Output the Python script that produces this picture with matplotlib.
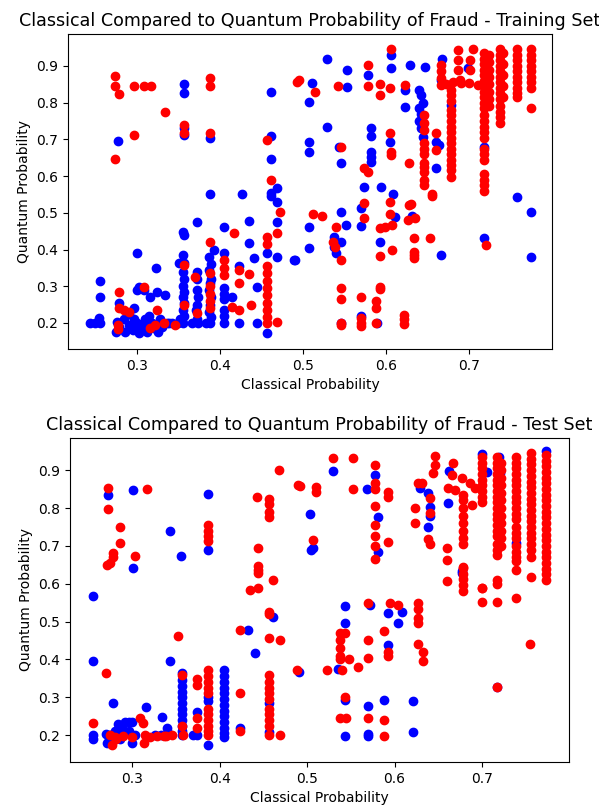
import matplotlib
matplotlib.use("Agg")
import matplotlib.pyplot as plt

# ---- training set: classical vs quantum fraud probability ----
train_blue_x = [
    0.277, 0.357, 0.357, 0.357, 0.357, 0.388, 0.388, 0.4265,
    0.461, 0.461, 0.461, 0.461, 0.461, 0.469, 0.469,
    0.511, 0.507, 0.529, 0.553, 0.553, 0.529, 0.507, 0.507, 0.543, 0.545,
    0.578, 0.582, 0.582, 0.582, 0.582, 0.582, 0.573, 0.594, 0.608,
    0.606, 0.606, 0.604, 0.629, 0.647, 0.623, 0.623,
    0.640, 0.642, 0.644, 0.640, 0.642, 0.640, 0.642, 0.644,
    0.660, 0.664, 0.660, 0.667, 0.666, 0.678, 0.699, 0.718,
    0.757, 0.774, 0.774, 0.718,
    0.507, 0.507, 0.490, 0.545, 0.552, 0.537, 0.537, 0.539, 0.546, 0.570, 0.570,
    0.610, 0.593, 0.631, 0.666,
    0.545, 0.570, 0.589,
    0.243, 0.249, 0.255, 0.255, 0.255, 0.254,
    0.278, 0.276, 0.278, 0.275,
    0.300, 0.296, 0.302, 0.300, 0.308,
    0.285, 0.290, 0.295, 0.300, 0.305, 0.310, 0.312, 0.318, 0.320, 0.328, 0.330,
    0.325, 0.286, 0.302, 0.315, 0.290, 0.297,
    0.323, 0.324, 0.334, 0.316, 0.308, 0.313,
    0.339, 0.342, 0.336,
    0.351, 0.357, 0.355, 0.357, 0.355,
    0.356, 0.357, 0.356, 0.357, 0.356, 0.357, 0.356, 0.357, 0.356, 0.352, 0.350,
    0.372, 0.372, 0.372,
    0.372, 0.373, 0.372, 0.371, 0.372, 0.373, 0.366,
    0.393, 0.387,
    0.389, 0.387, 0.389, 0.388, 0.387, 0.389, 0.388, 0.387, 0.389, 0.388, 0.383,
    0.405, 0.405, 0.405, 0.405, 0.405, 0.405, 0.405, 0.405,
    0.414, 0.423, 0.423,
    0.435, 0.435, 0.441, 0.445, 0.445,
    0.457, 0.457, 0.469, 0.469, 0.489,
]
train_blue_y = [
    0.696, 0.850, 0.825, 0.713, 0.730, 0.704, 0.551, 0.551,
    0.830, 0.709, 0.646, 0.554, 0.545, 0.567, 0.530,
    0.853, 0.802, 0.919, 0.889, 0.843, 0.734, 0.693, 0.666, 0.679, 0.636,
    0.875, 0.731, 0.709, 0.666, 0.652, 0.638, 0.570, 0.570, 0.551,
    0.930, 0.894, 0.693, 0.903, 0.897, 0.835, 0.789,
    0.835, 0.820, 0.800, 0.785, 0.770, 0.750, 0.730, 0.706,
    0.693, 0.685, 0.622, 0.920, 0.862, 0.794, 0.894, 0.679,
    0.543, 0.502, 0.380, 0.431,
    0.461, 0.404, 0.371, 0.502, 0.467, 0.434, 0.407, 0.390, 0.420, 0.513, 0.464,
    0.489, 0.420, 0.491, 0.385,
    0.200, 0.219, 0.200,
    0.200, 0.200, 0.200, 0.314, 0.270, 0.213,
    0.254, 0.202, 0.190, 0.175,
    0.390, 0.240, 0.298, 0.290, 0.290,
    0.210, 0.195, 0.180, 0.200, 0.185, 0.210, 0.175, 0.200, 0.185, 0.210, 0.190,
    0.175, 0.175, 0.172, 0.220, 0.225, 0.210,
    0.350, 0.284, 0.276, 0.270, 0.200, 0.200,
    0.200, 0.200, 0.200,
    0.363, 0.363, 0.447, 0.440, 0.385,
    0.340, 0.320, 0.300, 0.285, 0.270, 0.255, 0.235, 0.220, 0.200, 0.210, 0.200,
    0.475, 0.339, 0.290,
    0.320, 0.270, 0.250, 0.235, 0.210, 0.200, 0.200,
    0.400, 0.380,
    0.360, 0.345, 0.320, 0.310, 0.290, 0.270, 0.250, 0.230, 0.215, 0.200, 0.200,
    0.461, 0.390, 0.296, 0.280, 0.265, 0.200, 0.235, 0.220,
    0.270, 0.355, 0.200,
    0.477, 0.418, 0.377, 0.298, 0.200,
    0.390, 0.173, 0.475, 0.380, 0.371,
]

train_red_x = [
    0.2735, 0.2735, 0.278, 0.296, 0.308, 0.317, 0.334, 0.296, 0.274,
    0.357, 0.357, 0.388, 0.388, 0.388, 0.457, 0.461,
    0.495, 0.493, 0.514, 0.542, 0.546,
    0.578, 0.578, 0.573, 0.578,
    0.593, 0.593, 0.605, 0.606, 0.604, 0.606, 0.606, 0.628, 0.623,
    0.645, 0.645, 0.645, 0.645, 0.645, 0.645, 0.645, 0.645, 0.645, 0.645, 0.645,
    0.655, 0.660, 0.660,
    0.666, 0.666, 0.666, 0.666,
    0.672, 0.680, 0.690, 0.700, 0.710,
    0.678, 0.678, 0.678, 0.678, 0.678, 0.678, 0.678, 0.678, 0.678, 0.678,
    0.678, 0.678, 0.678, 0.678, 0.678, 0.678,
    0.686, 0.686, 0.686, 0.689, 0.704, 0.701, 0.701,
    0.718, 0.718, 0.718, 0.718, 0.718, 0.718, 0.718, 0.718, 0.718, 0.718, 0.718, 0.718,
    0.718, 0.718, 0.718, 0.718, 0.718, 0.718, 0.718, 0.718, 0.718, 0.718, 0.718,
    0.724, 0.724, 0.724, 0.724, 0.724, 0.724, 0.724, 0.724,
    0.737, 0.737, 0.737, 0.737, 0.737, 0.737, 0.737, 0.737, 0.737, 0.737, 0.737,
    0.737, 0.737, 0.737,
    0.741, 0.741, 0.741, 0.741, 0.741,
    0.757, 0.757, 0.757, 0.757, 0.757, 0.757, 0.757, 0.757, 0.757, 0.757,
    0.774, 0.774, 0.774, 0.774, 0.774, 0.774, 0.774, 0.774, 0.774,
    0.720,
    0.512, 0.523, 0.539, 0.536, 0.538, 0.546, 0.573, 0.573, 0.605, 0.605, 0.593,
    0.598, 0.607, 0.607, 0.593, 0.628, 0.630, 0.626, 0.635, 0.634, 0.634, 0.634,
    0.634, 0.653, 0.655,
    0.545, 0.545, 0.545, 0.545, 0.570, 0.570, 0.570, 0.570, 0.592, 0.593, 0.588,
    0.588, 0.588, 0.622, 0.622, 0.622,
    0.278, 0.278, 0.284, 0.277, 0.277, 0.308, 0.324, 0.322, 0.346, 0.357, 0.357,
    0.370, 0.372, 0.388, 0.388, 0.388, 0.388, 0.388, 0.388,
    0.405, 0.405, 0.405,
    0.417, 0.414, 0.423, 0.423, 0.423, 0.435, 0.437,
    0.457, 0.457, 0.457, 0.457, 0.457, 0.457, 0.457, 0.457, 0.457, 0.457, 0.457,
    0.472, 0.469, 0.469,
    0.290, 0.316, 0.333,
]
train_red_y = [
    0.873, 0.846, 0.824, 0.846, 0.846, 0.846, 0.775, 0.712, 0.647,
    0.739, 0.717, 0.867, 0.846, 0.717, 0.698, 0.589,
    0.862, 0.855, 0.830, 0.846, 0.679,
    0.903, 0.846, 0.622, 0.611,
    0.851, 0.821, 0.840, 0.946, 0.717, 0.666, 0.657, 0.636, 0.848,
    0.765, 0.745, 0.725, 0.690, 0.675, 0.660, 0.636, 0.625, 0.610, 0.590, 0.575,
    0.551, 0.717, 0.671,
    0.903, 0.885, 0.866, 0.849,
    0.850, 0.855, 0.853, 0.853, 0.848,
    0.835, 0.820, 0.805, 0.780, 0.765, 0.750, 0.735, 0.720, 0.705, 0.690,
    0.675, 0.660, 0.645, 0.630, 0.617, 0.598,
    0.944, 0.916, 0.889, 0.862, 0.946, 0.916, 0.889,
    0.935, 0.920, 0.905, 0.890, 0.875, 0.860, 0.845, 0.830, 0.815, 0.800, 0.785, 0.765,
    0.750, 0.735, 0.720, 0.705, 0.675, 0.660, 0.645, 0.605, 0.590, 0.575, 0.560,
    0.930, 0.910, 0.890, 0.870, 0.850, 0.830, 0.810, 0.790,
    0.945, 0.930, 0.915, 0.900, 0.885, 0.870, 0.855, 0.840, 0.825, 0.810, 0.790,
    0.775, 0.760, 0.745,
    0.935, 0.905, 0.875, 0.845, 0.815,
    0.945, 0.930, 0.915, 0.900, 0.885, 0.870, 0.855, 0.840, 0.825, 0.815,
    0.945, 0.930, 0.915, 0.900, 0.885, 0.870, 0.855, 0.840, 0.785,
    0.412,
    0.497, 0.491, 0.461, 0.420, 0.407, 0.371, 0.527, 0.486, 0.529, 0.497, 0.459,
    0.461, 0.467, 0.399, 0.382, 0.521, 0.524, 0.480, 0.486, 0.431, 0.393, 0.385,
    0.377, 0.431, 0.546,
    0.295, 0.265, 0.200, 0.194, 0.271, 0.213, 0.200, 0.191, 0.298, 0.292, 0.260,
    0.241, 0.200, 0.222, 0.211, 0.197,
    0.284, 0.240, 0.235, 0.194, 0.183, 0.298, 0.235, 0.194, 0.194, 0.249, 0.358,
    0.325, 0.227, 0.420, 0.335, 0.300, 0.280, 0.260, 0.240,
    0.371, 0.350, 0.330,
    0.445, 0.243, 0.309, 0.235, 0.344, 0.333, 0.249,
    0.434, 0.415, 0.355, 0.335, 0.315, 0.295, 0.275, 0.255, 0.235, 0.215, 0.200,
    0.502, 0.445, 0.203,
    0.230, 0.185, 0.200,
]

# ---- test set ----
test_blue_x = [
    0.2726, 0.301, 0.301, 0.255, 0.343, 0.356, 0.387, 0.387,
    0.503, 0.505, 0.507, 0.530, 0.569, 0.578, 0.581, 0.581,
    0.629, 0.638, 0.640, 0.640, 0.638,
    0.662, 0.661, 0.677, 0.677,
    0.700, 0.719, 0.773, 0.739, 0.706, 0.721,
    0.543, 0.543, 0.535, 0.572, 0.593, 0.609, 0.604, 0.593, 0.491, 0.717,
    0.543, 0.543, 0.570, 0.570, 0.570, 0.588, 0.621, 0.621,
    0.255, 0.255, 0.255, 0.278, 0.270, 0.274, 0.271, 0.275,
    0.284, 0.288, 0.292, 0.296, 0.300, 0.290, 0.286, 0.300, 0.303, 0.296, 0.280,
    0.316, 0.334, 0.340, 0.326, 0.333, 0.341, 0.343,
    0.357, 0.357, 0.357, 0.357, 0.357, 0.357, 0.357, 0.357, 0.357, 0.357, 0.357, 0.357,
    0.374, 0.374, 0.370,
    0.387, 0.387, 0.387,
    0.405, 0.405, 0.405, 0.405, 0.405, 0.405, 0.405, 0.405, 0.405, 0.405, 0.405,
    0.405, 0.405,
    0.423, 0.433, 0.441,
    0.457, 0.457, 0.461,
]
test_blue_y = [
    0.834, 0.847, 0.641, 0.567, 0.739, 0.672, 0.836, 0.688,
    0.784, 0.688, 0.694, 0.897, 0.850, 0.887, 0.776, 0.683,
    0.853, 0.839, 0.802, 0.780, 0.750,
    0.897, 0.812, 0.633, 0.629,
    0.944, 0.935, 0.950, 0.707, 0.895, 0.892,
    0.540, 0.495, 0.376, 0.543, 0.522, 0.524, 0.495, 0.437, 0.366, 0.326,
    0.294, 0.199, 0.276, 0.204, 0.199, 0.294, 0.291, 0.207,
    0.395, 0.200, 0.191, 0.286, 0.204, 0.190, 0.180, 0.200,
    0.230, 0.220, 0.235, 0.235, 0.235, 0.205, 0.190, 0.180, 0.200, 0.210, 0.210,
    0.273, 0.247, 0.220, 0.200, 0.200, 0.205, 0.395,
    0.363, 0.345, 0.330, 0.315, 0.300, 0.285, 0.270, 0.255, 0.240, 0.225, 0.210, 0.200,
    0.260, 0.200, 0.200,
    0.173, 0.300, 0.290,
    0.371, 0.355, 0.340, 0.325, 0.310, 0.295, 0.280, 0.265, 0.250, 0.235, 0.220,
    0.205, 0.195,
    0.218, 0.479, 0.416,
    0.286, 0.207, 0.511,
]

test_red_x = [
    0.2726, 0.2726, 0.286, 0.286, 0.278, 0.278, 0.275, 0.271, 0.317, 0.303,
    0.387, 0.387, 0.387, 0.387,
    0.468, 0.490, 0.443, 0.457, 0.457, 0.457, 0.457, 0.444, 0.444, 0.444, 0.444,
    0.461, 0.435, 0.444, 0.457,
    0.492, 0.510, 0.510, 0.507, 0.530, 0.553, 0.553, 0.578, 0.578, 0.578, 0.593,
    0.593, 0.578, 0.578, 0.578, 0.578, 0.578, 0.593,
    0.646, 0.646, 0.644, 0.627, 0.631, 0.641, 0.641, 0.638, 0.641, 0.623, 0.623,
    0.667, 0.666, 0.661, 0.669, 0.660, 0.660, 0.660,
    0.677, 0.686, 0.692, 0.689,
    0.678, 0.678, 0.678, 0.678, 0.678, 0.678, 0.678, 0.678, 0.678, 0.678, 0.678,
    0.678, 0.678, 0.678,
    0.700, 0.700, 0.700, 0.700, 0.700, 0.700, 0.700, 0.700, 0.700, 0.700, 0.700,
    0.700,
    0.717, 0.717, 0.717, 0.717, 0.717, 0.717, 0.717, 0.717, 0.717, 0.717, 0.717,
    0.717, 0.717, 0.717, 0.717, 0.717, 0.717, 0.717, 0.717, 0.717, 0.717,
    0.722, 0.722, 0.722, 0.722, 0.722, 0.722, 0.722, 0.722, 0.722, 0.722, 0.722,
    0.722,
    0.739, 0.739, 0.739, 0.739, 0.739, 0.739, 0.739, 0.739, 0.739, 0.739, 0.739,
    0.739, 0.739, 0.739, 0.739, 0.739, 0.739, 0.739, 0.739, 0.739, 0.739,
    0.756, 0.756, 0.756, 0.756, 0.756, 0.756, 0.756, 0.756, 0.756, 0.756, 0.756,
    0.756, 0.756, 0.756, 0.756, 0.756, 0.756, 0.756, 0.756, 0.756,
    0.773, 0.773, 0.773, 0.773, 0.773, 0.773, 0.773, 0.773, 0.773, 0.773, 0.773,
    0.773, 0.773, 0.773, 0.773, 0.773, 0.773, 0.773, 0.773, 0.773, 0.773, 0.773,
    0.773,
    0.755, 0.717,
    0.538, 0.543, 0.538, 0.538, 0.538, 0.538, 0.548, 0.540, 0.523, 0.558, 0.570,
    0.570, 0.570, 0.595, 0.604, 0.588, 0.593, 0.593, 0.627, 0.627, 0.627, 0.627,
    0.627, 0.633, 0.633, 0.488,
    0.543, 0.538, 0.545, 0.570, 0.588, 0.588,
    0.255, 0.270, 0.275, 0.280, 0.277, 0.282,
    0.309, 0.312, 0.315, 0.313, 0.329, 0.339, 0.346, 0.358, 0.352, 0.357, 0.357,
    0.290, 0.300, 0.320, 0.336,
    0.374, 0.374, 0.374, 0.374,
    0.387, 0.387, 0.387, 0.387, 0.387, 0.387, 0.387, 0.387, 0.387, 0.387, 0.387,
    0.423, 0.423, 0.423,
    0.457, 0.457, 0.457, 0.457, 0.457, 0.457, 0.457, 0.457, 0.457, 0.457,
    0.457, 0.457, 0.469, 0.469,
]
test_red_y = [
    0.852, 0.797, 0.749, 0.707, 0.680, 0.670, 0.654, 0.649, 0.850, 0.672,
    0.755, 0.740, 0.727, 0.714,
    0.900, 0.860, 0.828, 0.825, 0.810, 0.790, 0.775, 0.694, 0.646, 0.636, 0.628,
    0.609, 0.583, 0.588, 0.524,
    0.858, 0.855, 0.842, 0.715, 0.932, 0.932, 0.850, 0.913, 0.865, 0.850, 0.842,
    0.829, 0.805, 0.755, 0.725, 0.700, 0.665, 0.709,
    0.937, 0.913, 0.892, 0.866, 0.866, 0.826, 0.787, 0.717, 0.706, 0.799, 0.760,
    0.918, 0.887, 0.852, 0.847, 0.694, 0.662, 0.606,
    0.879, 0.866, 0.852, 0.807,
    0.835, 0.820, 0.800, 0.780, 0.760, 0.740, 0.720, 0.706, 0.645, 0.612, 0.596,
    0.641, 0.625, 0.582,
    0.935, 0.920, 0.905, 0.890, 0.875, 0.860, 0.845, 0.830, 0.815, 0.590, 0.551,
    0.588,
    0.935, 0.920, 0.905, 0.890, 0.875, 0.860, 0.845, 0.830, 0.815, 0.800, 0.785,
    0.770, 0.755, 0.740, 0.725, 0.705, 0.690, 0.675, 0.609, 0.600, 0.551,
    0.920, 0.900, 0.880, 0.860, 0.840, 0.820, 0.800, 0.780, 0.760, 0.740, 0.720,
    0.700,
    0.935, 0.920, 0.905, 0.890, 0.875, 0.860, 0.845, 0.830, 0.815, 0.800, 0.785,
    0.770, 0.750, 0.735, 0.720, 0.700, 0.685, 0.670, 0.660, 0.635, 0.561,
    0.945, 0.930, 0.915, 0.900, 0.885, 0.870, 0.855, 0.840, 0.825, 0.810, 0.795,
    0.780, 0.765, 0.750, 0.735, 0.720, 0.705, 0.690, 0.670, 0.617,
    0.940, 0.925, 0.910, 0.895, 0.880, 0.865, 0.850, 0.835, 0.820, 0.805, 0.790,
    0.775, 0.760, 0.745, 0.730, 0.715, 0.700, 0.685, 0.670, 0.655, 0.640, 0.625,
    0.610,
    0.440, 0.326,
    0.469, 0.471, 0.450, 0.430, 0.410, 0.400, 0.400, 0.373, 0.371, 0.379, 0.450,
    0.405, 0.550, 0.548, 0.543, 0.474, 0.419, 0.408, 0.548, 0.532, 0.510, 0.495,
    0.442, 0.419, 0.397, 0.372,
    0.302, 0.246, 0.244, 0.244, 0.239, 0.199,
    0.231, 0.363, 0.200, 0.195, 0.173, 0.190,
    0.244, 0.232, 0.200, 0.178, 0.198, 0.198, 0.200, 0.200, 0.461, 0.358, 0.225,
    0.198, 0.195, 0.195, 0.197,
    0.347, 0.332, 0.244, 0.218,
    0.371, 0.355, 0.340, 0.325, 0.310, 0.270, 0.255, 0.240, 0.225, 0.210, 0.200,
    0.310, 0.212, 0.479,
    0.358, 0.340, 0.325, 0.310, 0.295, 0.270, 0.255, 0.240, 0.225, 0.200,
    0.456, 0.521, 0.450, 0.200,
]

fig = plt.figure(figsize=(5.99, 8.09), dpi=100)

ax1 = fig.add_axes([0.1135, 0.5686, 0.808, 0.3894])
ax1.scatter(train_blue_x, train_blue_y, c='blue')
ax1.scatter(train_red_x, train_red_y, c='red')
ax1.set_xlim(0.2170, 0.7995)
ax1.set_ylim(0.129, 0.987)
ax1.set_title('Classical Compared to Quantum Probability of Fraud - Training Set', fontsize=12.6)
ax1.set_xlabel('Classical Probability')
ax1.set_ylabel('Quantum Probability')

ax2 = fig.add_axes([0.1169, 0.0581, 0.833, 0.4005])
ax2.scatter(test_blue_x, test_blue_y, c='blue')
ax2.scatter(test_red_x, test_red_y, c='red')
ax2.set_xlim(0.229, 0.7994)
ax2.set_ylim(0.129, 0.985)
ax2.set_title('Classical Compared to Quantum Probability of Fraud - Test Set', fontsize=12.6)
ax2.set_xlabel('Classical Probability')
ax2.set_ylabel('Quantum Probability')

fig.savefig('out.png', dpi=100)
